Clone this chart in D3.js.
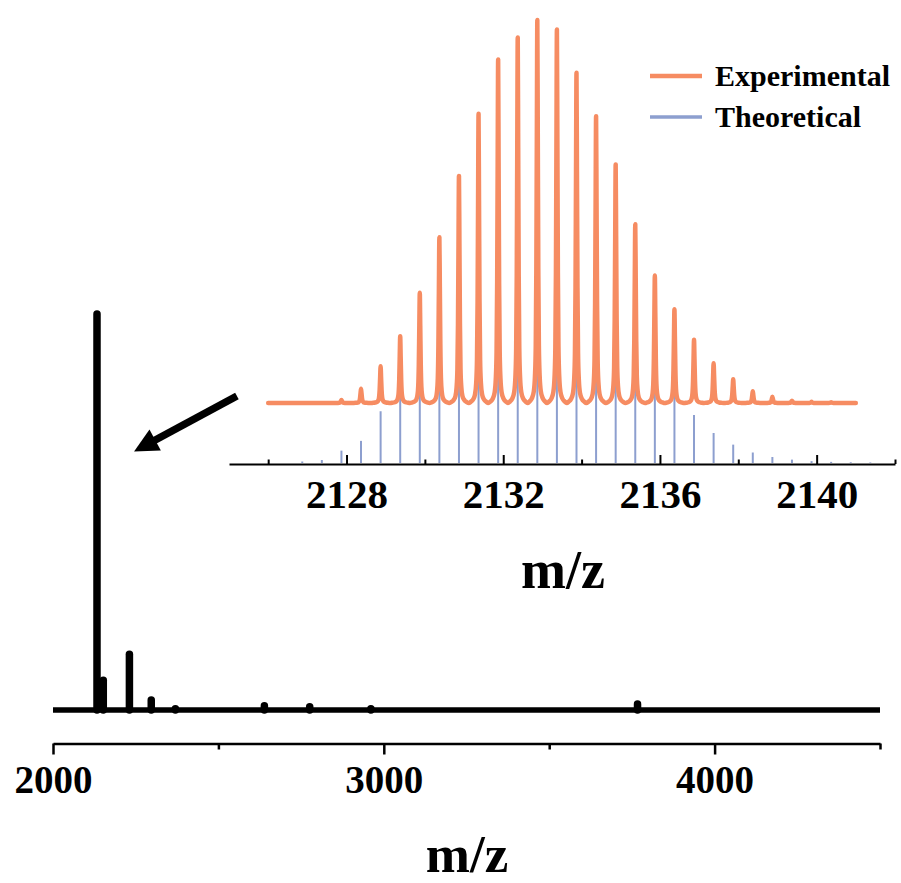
<!DOCTYPE html>
<html>
<head>
<meta charset="utf-8">
<script src="https://cdn.jsdelivr.net/npm/d3@7/dist/d3.min.js"></script>
<style>
  html, body { margin: 0; padding: 0; background: #fff; }
  svg { display: block; }
  text { font-family: "Liberation Serif", "Times New Roman", serif; font-weight: bold; fill: #000; }
</style>
</head>
<body>
<div id="chart"></div>
<script>
// ---------------- DATA ----------------
// Main (full range) spectrum: peak m/z and relative intensity (%)
const mainMz  = [2133, 2152, 2231, 2297, 2370, 2639, 2776, 2961, 3767];
const mainInt = [100, 7.5, 14.1, 2.5, 0.3, 1.1, 0.8, 0.3, 1.5];
const mainRange = [2000, 4500];
const mainTicksMajor = [2000, 3000, 4000];
const mainTicksMinor = [2500, 3500, 4500];

// Inset: isotope pattern
const expMz  = [2127.87, 2128.37, 2128.87, 2129.37, 2129.87, 2130.37, 2130.87, 2131.37, 2131.87, 2132.37,
                2132.87, 2133.37, 2133.87, 2134.37, 2134.87, 2135.37, 2135.87, 2136.37, 2136.87, 2137.37,
                2137.87, 2138.37, 2138.87, 2139.37, 2139.87, 2140.37];
const expInt = [0.8, 3.7, 9.6, 17.4, 28.8, 43.3, 59.3, 75.5, 89.7, 95.4,
                100, 97.5, 86.2, 74.9, 62.3, 46.7, 33.3, 24.5, 16.5, 10.4,
                6.2, 3.1, 1.6, 0.6, 0.3, 0.2];
const expRange = [2126.0, 2141.0];

const theoMz  = [2126.87, 2127.37, 2127.87, 2128.37, 2128.87, 2129.37, 2129.87, 2130.37, 2130.87, 2131.37,
                 2131.87, 2132.37, 2132.87, 2133.37, 2133.87, 2134.37, 2134.87, 2135.37, 2135.87, 2136.37,
                 2136.87, 2137.37, 2137.87, 2138.37, 2138.87, 2139.37, 2139.87, 2140.37, 2140.87, 2141.37];
const theoInt = [0.4, 0.8, 3.3, 5.9, 13.8, 24, 37, 53, 69, 83,
                 94, 99, 100, 96, 85, 72, 57, 43, 30, 20,
                 12.8, 8, 4.9, 2.8, 1.6, 0.9, 0.5, 0.3, 0.2, 0.15];
const insetRange = [2125, 2142];
const insetTicksMajor = [2128, 2132, 2136, 2140];
const insetTicksMinor = [2126, 2130, 2134, 2138, 2142];

const legendLabels = ["Experimental", "Theoretical"];
const axisTitle = "m/z";

// arrow annotation (in main-plot data units: [m/z, intensity %])
const arrowFrom = [2556, 79.3];
const arrowTo   = [2245, 65.3];

// ---------------- STYLE ----------------
const W = 901, H = 883;
const ORANGE = "#F68C62";
const BLUE = "#8D9FCF";

const svg = d3.select("#chart").append("svg").attr("width", W).attr("height", H);

// ---------------- MAIN PLOT ----------------
const xMain = d3.scaleLinear().domain(mainRange).range([53, 880]);
const yMain = d3.scaleLinear().domain([0, 100]).range([710, 314]);

const lineMain = d3.line().x(d => xMain(d[0])).y(d => yMain(d[1]));
svg.append("path")
  .attr("d", lineMain([[mainRange[0], 0], [mainRange[1], 0]]))
  .attr("stroke", "#000").attr("stroke-width", 5.5).attr("fill", "none");

svg.append("g").selectAll("line").data(mainMz.map((m, i) => [m, mainInt[i]])).join("line")
  .attr("x1", d => xMain(d[0])).attr("x2", d => xMain(d[0]))
  .attr("y1", yMain(0)).attr("y2", d => yMain(d[1]))
  .attr("stroke", "#000").attr("stroke-width", 7.5).attr("stroke-linecap", "round");

// main axis
const gMainAxis = svg.append("g").attr("transform", "translate(0,743.5)");
gMainAxis.call(d3.axisBottom(xMain).tickValues(mainTicksMajor).tickSize(11).tickSizeOuter(0)
  .tickFormat(d3.format("d")));
gMainAxis.append("g").call(d3.axisBottom(xMain).tickValues(mainTicksMinor).tickSize(6).tickSizeOuter(0)
  .tickFormat(""))
  .select(".domain").remove();
gMainAxis.selectAll(".domain").attr("stroke", "#000").attr("stroke-width", 2.5);
gMainAxis.selectAll(".tick line").attr("stroke", "#000").attr("stroke-width", 2.5);
gMainAxis.selectAll(".tick text")
  .attr("y", 49.5).attr("dy", 0)
  .style("font-family", '"Liberation Serif", "Times New Roman", serif')
  .style("font-weight", "bold").style("font-size", "39px").attr("fill", "#000");

svg.append("text").attr("x", 467).attr("y", 872).attr("text-anchor", "middle")
  .style("font-size", "53px").text(axisTitle);

// arrow
{
  const x1 = xMain(arrowFrom[0]), y1 = yMain(arrowFrom[1]);
  const x2 = xMain(arrowTo[0]), y2 = yMain(arrowTo[1]);
  const ang = Math.atan2(y2 - y1, x2 - x1);
  const headLen = 24, headHalf = 12;
  const bx = x2 - headLen * Math.cos(ang), by = y2 - headLen * Math.sin(ang);
  svg.append("line").attr("x1", x1).attr("y1", y1).attr("x2", bx + 2 * Math.cos(ang)).attr("y2", by + 2 * Math.sin(ang))
    .attr("stroke", "#000").attr("stroke-width", 7.5);
  const px = -Math.sin(ang), py = Math.cos(ang);
  svg.append("path")
    .attr("d", `M${x2},${y2}L${bx + headHalf * px},${by + headHalf * py}L${bx - headHalf * px},${by - headHalf * py}Z`)
    .attr("fill", "#000");
}

// ---------------- INSET ----------------
const xIn = d3.scaleLinear().domain(insetRange).range([229, 895]);
const yExp = d3.scaleLinear().domain([0, 100]).range([403, 20]);
const yTheo = d3.scaleLinear().domain([0, 100]).range([463, 88]);

// theoretical sticks
svg.append("g").selectAll("line").data(theoMz.map((m, i) => [m, theoInt[i]])).join("line")
  .attr("x1", d => xIn(d[0])).attr("x2", d => xIn(d[0]))
  .attr("y1", yTheo(0)).attr("y2", d => yTheo(d[1]))
  .attr("stroke", BLUE).attr("stroke-width", 2);

// experimental profile: peak apexes joined through baseline valleys (drawing template = style)
const shapeDx = [-0.25, -0.2, -0.14, -0.09, -0.06, -0.04, -0.025, -0.012, 0, 0.012, 0.025, 0.04, 0.06, 0.09, 0.14, 0.2];
const shapeFr = [0, 0.004, 0.012, 0.03, 0.07, 0.15, 0.35, 0.7, 1, 0.7, 0.35, 0.15, 0.07, 0.03, 0.012, 0.004];
const profile = [[expRange[0], 0]];
expMz.forEach((m, i) => {
  shapeDx.forEach((dx, j) => profile.push([m + dx, expInt[i] * shapeFr[j]]));
});
profile.push([expMz[expMz.length - 1] + 0.25, 0]);
profile.push([expRange[1], 0]);

svg.append("path")
  .attr("d", d3.line().x(d => xIn(d[0])).y(d => yExp(d[1])).curve(d3.curveMonotoneX)(profile))
  .attr("fill", "none").attr("stroke", ORANGE).attr("stroke-width", 4.5)
  .attr("stroke-linejoin", "round").attr("stroke-linecap", "round");

// inset axis
const gIn = svg.append("g").attr("transform", "translate(0,464)");
gIn.call(d3.axisBottom(xIn).tickValues(insetTicksMajor).tickSize(-9).tickSizeOuter(0).tickFormat(d3.format("d")));
gIn.append("g").call(d3.axisBottom(xIn).tickValues(insetTicksMinor).tickSize(-4.5).tickSizeOuter(0).tickFormat(""))
  .select(".domain").remove();
gIn.selectAll(".domain").attr("stroke", "#000").attr("stroke-width", 2);
gIn.selectAll(".tick line").attr("stroke", "#000").attr("stroke-width", 2);
gIn.selectAll(".tick text")
  .attr("y", 44).attr("dy", 0)
  .style("font-family", '"Liberation Serif", "Times New Roman", serif')
  .style("font-weight", "bold").style("font-size", "41px").attr("fill", "#000");

svg.append("text").attr("x", 563).attr("y", 588).attr("text-anchor", "middle")
  .style("font-size", "54px").text(axisTitle);

// legend
const legend = svg.append("g");
const legY = [76, 117];
const legCol = [ORANGE, BLUE];
const legW = [4.5, 3.5];
legendLabels.forEach((lab, i) => {
  legend.append("line").attr("x1", 650).attr("x2", 702).attr("y1", legY[i]).attr("y2", legY[i])
    .attr("stroke", legCol[i]).attr("stroke-width", legW[i]);
  legend.append("text").attr("x", 715).attr("y", legY[i] + 10).style("font-size", "30px").text(lab);
});
</script>
</body>
</html>
